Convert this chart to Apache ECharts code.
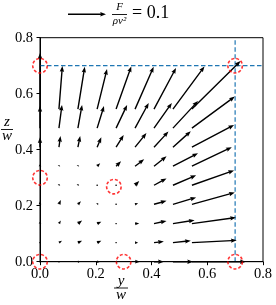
<!DOCTYPE html>
<html><head><meta charset="utf-8">
<script src="https://cdn.jsdelivr.net/npm/echarts@6/dist/echarts.min.js"></script>
<style>html,body{margin:0;padding:0;background:#fff}#c{width:276px;height:305px}</style>
</head><body><div id="c"></div>
<script>
// grid positions (y/w and z/w) of the vector tails
const gridPos = [0, 0.068, 0.136, 0.205, 0.273, 0.341, 0.409, 0.477, 0.545];
// horizontal component F_y/(rho v^2), rows = z index (bottom to top), cols = y index
const U = [
  [0, 0.003, 0.005, 0.008, 0.005, 0.013, 0.026, 0.053, 0.142],
  [0, 0.008, 0.011, 0.011, 0.003, 0.008, 0.026, 0.047, 0.118],
  [0, 0.005, 0.011, 0.011, 0.003, 0.011, 0.033, 0.057, 0.116],
  [0, 0.005, 0.008, 0.003, 0.003, 0.008, 0.033, 0.061, 0.113],
  [0, 0.001, 0.001, 0.001, 0.001, 0.011, 0.033, 0.061, 0.111],
  [0, 0.001, 0.001, 0.008, 0.013, 0.024, 0.033, 0.066, 0.105],
  [0, 0.004, 0.006, 0.011, 0.020, 0.030, 0.038, 0.047, 0.111],
  [0, 0.008, 0.011, 0.018, 0.029, 0.036, 0.047, 0.066, 0.113],
  [0, 0.009, 0.018, 0.026, 0.040, 0.049, 0.058, 0.083, 0.128]
];
// vertical component F_z/(rho v^2)
const V = [
  [0, 0, 0, 0, 0, 0, 0, 0, 0],
  [0.003, 0.005, 0.005, 0.005, 0, 0, 0.003, 0.005, 0.006],
  [0.005, 0.008, 0.008, 0.005, 0, 0, 0.007, 0.009, 0.016],
  [0.008, 0.011, 0.008, 0.003, 0, 0.003, 0.009, 0.018, 0.031],
  [0.003, 0.003, 0.003, 0.001, 0.001, 0.011, 0.018, 0.026, 0.039],
  [0.005, 0.003, 0.003, 0.008, 0.013, 0.018, 0.026, 0.034, 0.050],
  [0.026, 0.029, 0.029, 0.026, 0.032, 0.037, 0.041, 0.042, 0.058],
  [0.058, 0.061, 0.061, 0.058, 0.061, 0.066, 0.066, 0.071, 0.083],
  [0.147, 0.113, 0.111, 0.105, 0.112, 0.111, 0.108, 0.112, 0.126]
];
// highlighted points (red dashed circles)
const circleY = [0, 0, 0, 0.3, 0.265, 0.7, 0.7];
const circleZ = [0, 0.3, 0.7, 0, 0.268, 0.7, 0];
// dashed reference lines
const refY = 0.7;
const refZ = 0.7;
// axis range / ticks
const axisMin = 0, axisMax = 0.8, axisStep = 0.2;
// reference arrow value
const keyValue = 0.1;
// quiver scale: axis units per unit of F/(rho v^2)
const SCALE = 1.362;

const FONT = '"Liberation Serif", "DejaVu Serif", serif';

function arrowPoints(p0, p1) {
  const dx = p1[0] - p0[0], dy = p1[1] - p0[1];
  const L = Math.hypot(dx, dy);
  if (L < 1.2) {
    const r = 0.8, pts = [];
    for (let k = 0; k < 6; k++) {
      const a = k * Math.PI / 3;
      pts.push([p0[0] + r * Math.cos(a), p0[1] + r * Math.sin(a)]);
    }
    return pts;
  }
  const ux = dx / L, uy = dy / L, nx = -uy, ny = ux;
  let w = 0.7, hw = 2.2, hl = 5.8, hal = 5.2;
  if (L < hl) { const s = Math.max(L / hl, 0.6); w *= s; hw *= s; hal = Math.min(hal * s, L); hl = L; }
  const loc = [[0, -w], [L - hal, -w], [L - hl, -hw], [L, 0], [L - hl, hw], [L - hal, w], [0, w]];
  return loc.map(([a, b]) => [p0[0] + a * ux + b * nx, p0[1] + a * uy + b * ny]);
}

const quiverData = [];
for (let i = 0; i < gridPos.length; i++)
  for (let j = 0; j < gridPos.length; j++)
    quiverData.push([gridPos[j], gridPos[i], U[i][j], V[i][j]]);

const chart = echarts.init(document.getElementById('c'), null, { renderer: 'canvas' });

const axisCommon = {
  type: 'value', min: axisMin, max: axisMax, interval: axisStep,
  axisLine: { show: true, onZero: false, lineStyle: { color: '#000', width: 1 } },
  axisTick: { show: true, inside: false, length: 3.5, lineStyle: { color: '#000', width: 1 } },
  splitLine: { show: false },
  axisLabel: { color: '#000', fontFamily: FONT, fontSize: 14.5, formatter: v => v.toFixed(1) }
};

chart.setOption({
  animation: false,
  backgroundColor: '#fff',
  grid: { left: 40, top: 37.7, width: 223, height: 224, show: true, borderColor: '#000', borderWidth: 1, backgroundColor: 'transparent' },
  xAxis: Object.assign({}, axisCommon, { axisLabel: Object.assign({}, axisCommon.axisLabel, { margin: 5 }) }),
  yAxis: Object.assign({}, axisCommon, { axisLabel: Object.assign({}, axisCommon.axisLabel, { margin: 7 }) }),
  series: [
    {
      type: 'line', data: [[refY, axisMin], [refY, axisMax]], showSymbol: false, silent: true, z: 1,
      lineStyle: { color: '#1f77b4', width: 1.2, type: [4.5, 2.5] }
    },
    {
      type: 'line', data: [[axisMin, refZ], [axisMax, refZ]], showSymbol: false, silent: true, z: 1,
      lineStyle: { color: '#1f77b4', width: 1.2, type: [4.5, 2.5] }
    },
    {
      type: 'custom', data: quiverData, clip: false, silent: true, z: 2,
      encode: { x: 0, y: 1 },
      renderItem: function (params, api) {
        const x = api.value(0), y = api.value(1), u = api.value(2), v = api.value(3);
        const p0 = api.coord([x, y]);
        const p1 = api.coord([x + u * SCALE, y + v * SCALE]);
        return { type: 'polygon', shape: { points: arrowPoints(p0, p1) }, style: { fill: '#000' } };
      }
    },
    {
      type: 'scatter', data: circleY.map((y, k) => [y, circleZ[k]]), clip: false, silent: true, z: 3,
      symbol: 'circle', symbolSize: 14.5,
      itemStyle: { color: 'rgba(0,0,0,0)', borderColor: '#ff0000', borderWidth: 1.6, borderType: [3, 2] }
    }
  ]
});

// key arrow length from the same scale
const o = chart.convertToPixel({ gridIndex: 0 }, [0, 0]);
const e = chart.convertToPixel({ gridIndex: 0 }, [keyValue * SCALE, 0]);
const keyLen = e[0] - o[0];
const keyY = 14.3, keyX1 = 106;
const keyPts = arrowPoints([keyX1 - keyLen, keyY], [keyX1, keyY]);

function frac(cx, top, num, den, size, barW, fontStyle) {
  return [
    { type: 'text', style: { text: num, x: cx, y: top, align: 'center', verticalAlign: 'middle', font: fontStyle + ' ' + size + 'px ' + FONT, fill: '#000' } },
    { type: 'line', shape: { x1: cx - barW / 2, y1: top + 7, x2: cx + barW / 2, y2: top + 7 }, style: { stroke: '#000', lineWidth: 0.9 } },
    { type: 'text', style: { text: den, x: cx, y: top + 14, align: 'center', verticalAlign: 'middle', font: fontStyle + ' ' + size + 'px ' + FONT, fill: '#000' } }
  ];
}

chart.setOption({
  graphic: [
    { type: 'polygon', shape: { points: keyPts }, style: { fill: '#000' } },
    ...frac(119.5, 7.5, 'F', 'ρv²', 11, 15, 'italic'),
    { type: 'text', style: { text: '= ' + keyValue, x: 132, y: 13.5, align: 'left', verticalAlign: 'middle', font: '18px ' + FONT, fill: '#000' } },
    ...frac(7, 122.5, 'z', 'w', 15, 12, 'italic'),
    ...frac(121, 281, 'y', 'w', 15, 14, 'italic')
  ]
});
</script></body></html>
